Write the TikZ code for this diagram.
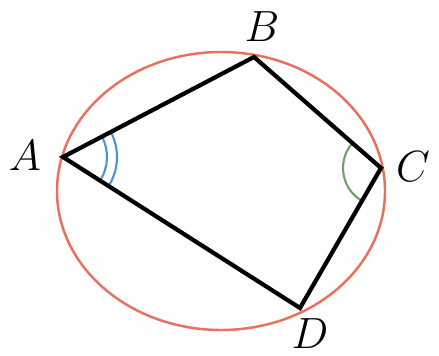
\documentclass[tikz,border=0pt]{standalone}
\begin{document}
\begin{tikzpicture}[x=0.02cm,y=-0.02cm,
  edge/.style={line width=2.4pt,line join=miter},
  circ/.style={draw={rgb,255:red,232;green,112;blue,92},line width=1.4pt},
  lab/.style={font=\fontsize{23}{28}\selectfont},
  arcA/.style={draw={rgb,255:red,72;green,150;blue,215},line width=1.2pt},
  arcC/.style={draw={rgb,255:red,110;green,160;blue,105},line width=1.2pt}]
\useasboundingbox (0,0) rectangle (439,355);
\coordinate (A) at (63,157);
\coordinate (B) at (254,57);
\coordinate (C) at (381,168);
\coordinate (D) at (300,308);
\coordinate (O) at (221,191);
\draw[circ] (O) ellipse [x radius=164, y radius=139];
\draw[arcA] ([shift={(-27.8:44)}]A) arc[start angle=-27.8,end angle=32.5,radius=44];
\draw[arcA] ([shift={(-27.8:54)}]A) arc[start angle=-27.8,end angle=32.5,radius=54];
\draw[arcC] ([shift={(220.9:38)}]C) arc[start angle=220.9,end angle=120.1,radius=38];
\draw[edge] (A) -- (B) -- (C) -- (D) -- cycle;
\node[lab] (lA) at (25,156) {$A$};
\node[lab] (lB) at (262,27) {$B$};
\node[lab] (lC) at (413,167) {$C$};
\node[lab] (lD) at (310,334) {$D$};
\end{tikzpicture}
\end{document}
